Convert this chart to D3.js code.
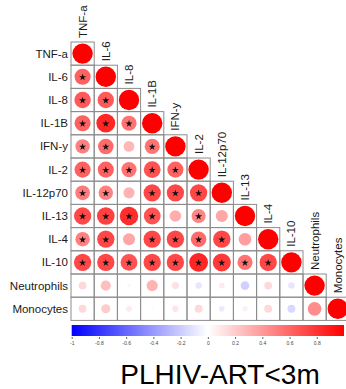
<!DOCTYPE html>
<html>
<head>
<meta charset="utf-8">
<script src="https://cdn.jsdelivr.net/npm/d3@7"></script>
<style>
  body { margin: 0; background: #fff; }
  svg { display: block; font-family: "Liberation Sans", Arial, sans-serif; }
</style>
</head>
<body>
<div id="chart"></div>
<script>
// variables in plot order
let vars = ['TNF-a', 'IL-6', 'IL-8', 'IL-1B', 'IFN-y', 'IL-2', 'IL-12p70', 'IL-13', 'IL-4', 'IL-10', 'Neutrophils', 'Monocytes'];

// lower triangle of correlation matrix (row i has i+1 values)
let corr = [
    [1],
    [0.62, 1],
    [0.65, 0.65, 1],
    [0.62, 0.85, 0.55, 1],
    [0.5, 0.58, 0.28, 0.55, 1],
    [0.62, 0.62, 0.55, 0.68, 0.62, 1],
    [0.52, 0.5, 0.3, 0.72, 0.72, 0.72, 1],
    [0.72, 0.75, 0.82, 0.68, 0.32, 0.48, 0.35, 1],
    [0.5, 0.72, 0.35, 0.72, 0.72, 0.58, 0.72, 0.38, 1],
    [0.72, 0.72, 0.68, 0.72, 0.72, 0.85, 0.78, 0.55, 0.72, 1],
    [0.15, 0.25, -0.03, 0.3, 0.12, -0.1, 0.08, -0.18, 0.15, -0.1, 1],
    [0.15, 0.2, 0.08, 0.02, 0.1, 0.15, -0.08, 0.06, 0.15, -0.15, 0.45, 1]
];

// significance stars (1 = star)
let sig = [
    [0],
    [1, 0],
    [1, 1, 0],
    [1, 1, 1, 0],
    [1, 1, 0, 1, 0],
    [1, 1, 1, 1, 1, 0],
    [1, 1, 0, 1, 1, 1, 0],
    [1, 1, 1, 1, 0, 1, 0, 0],
    [1, 1, 0, 1, 1, 1, 1, 0, 0],
    [1, 1, 1, 1, 1, 1, 1, 1, 1, 0],
    [0, 0, 0, 0, 0, 0, 0, 0, 0, 0, 0],
    [0, 0, 0, 0, 0, 0, 0, 0, 0, 0, 0, 0]
];

let barTicks = [-1, -0.8, -0.6, -0.4, -0.2, 0, 0.2, 0.4, 0.6, 0.8];
let title = 'PLHIV-ART<3m';

let width = 346;
let height = 389;
let gridLeft = 71;
let gridTop = 42;
let cell = 23.2;

let svg = d3.select('#chart')
    .append('svg')
    .attr('width', width)
    .attr('height', height);

let xScale = d3.scaleBand()
    .domain(vars)
    .range([gridLeft, gridLeft + vars.length * cell]);
let yScale = d3.scaleBand()
    .domain(vars)
    .range([gridTop, gridTop + vars.length * cell]);

let color = d3.scaleLinear()
    .domain([-1, 0, 1])
    .range(['#0000ff', '#ffffff', '#ff0000']);

let cells = [];
corr.forEach((row, i) => {
    row.forEach((v, j) => {
        cells.push({ row: vars[i], col: vars[j], value: v, star: sig[i][j] });
    });
});

let maxR = xScale.bandwidth() * 0.44;

// grid
svg.append('g')
    .selectAll('rect')
    .data(cells)
    .enter()
    .append('rect')
    .attr('x', d => xScale(d.col))
    .attr('y', d => yScale(d.row))
    .attr('width', xScale.bandwidth())
    .attr('height', yScale.bandwidth())
    .attr('fill', 'none')
    .attr('stroke', '#8c8c8c')
    .attr('stroke-width', 1);

// circles
svg.append('g')
    .selectAll('circle')
    .data(cells)
    .enter()
    .append('circle')
    .attr('cx', d => xScale(d.col) + xScale.bandwidth() / 2)
    .attr('cy', d => yScale(d.row) + yScale.bandwidth() / 2)
    .attr('r', d => maxR * Math.sqrt(Math.abs(d.value)))
    .attr('fill', d => color(d.value));

// stars
svg.append('g')
    .selectAll('path')
    .data(cells.filter(d => d.star))
    .enter()
    .append('path')
    .attr('d', d3.symbol().type(d3.symbolStar).size(16))
    .attr('transform', d => `translate(${xScale(d.col) + xScale.bandwidth() / 2}, ${yScale(d.row) + yScale.bandwidth() / 2 + 0.5})`)
    .attr('fill', '#111');

// row labels
svg.append('g')
    .selectAll('text')
    .data(vars)
    .enter()
    .append('text')
    .attr('x', gridLeft - 3)
    .attr('y', d => yScale(d) + yScale.bandwidth() / 2)
    .attr('dy', '0.35em')
    .attr('text-anchor', 'end')
    .attr('font-size', 11.5)
    .attr('fill', '#1a1a1a')
    .text(d => d);

// column labels, above the diagonal cell
svg.append('g')
    .selectAll('text')
    .data(vars)
    .enter()
    .append('text')
    .attr('transform', d => `translate(${xScale(d) + xScale.bandwidth() / 2}, ${yScale(d) - 4}) rotate(-90)`)
    .attr('dy', '0.35em')
    .attr('text-anchor', 'start')
    .attr('font-size', 11.5)
    .attr('fill', '#1a1a1a')
    .text(d => d);

// colour bar
let barX = d3.scaleLinear()
    .domain([-1, 1])
    .range([71.7, 344]);

let grad = svg.append('defs')
    .append('linearGradient')
    .attr('id', 'cbar')
    .attr('x1', '0%').attr('x2', '100%');
grad.selectAll('stop')
    .data([-1, 0, 1])
    .enter()
    .append('stop')
    .attr('offset', d => ((d + 1) / 2 * 100) + '%')
    .attr('stop-color', d => color(d));

svg.append('rect')
    .attr('x', barX(-1))
    .attr('y', 325)
    .attr('width', barX(1) - barX(-1))
    .attr('height', 11)
    .attr('fill', 'url(#cbar)');

let barAxis = d3.axisBottom(barX)
    .tickValues(barTicks)
    .tickFormat(d => d)
    .tickSize(2)
    .tickPadding(2);

let axisG = svg.append('g')
    .attr('transform', 'translate(0, 337)')
    .call(barAxis);
axisG.select('.domain').remove();
axisG.selectAll('line').attr('stroke', '#666');
axisG.selectAll('text')
    .attr('font-size', 5)
    .attr('font-family', '"Liberation Sans", Arial, sans-serif')
    .attr('fill', '#444');

// title
svg.append('text')
    .attr('x', 220)
    .attr('y', 384)
    .attr('text-anchor', 'middle')
    .attr('font-size', 28)
    .attr('fill', '#000')
    .text(title);
</script>
</body>
</html>
